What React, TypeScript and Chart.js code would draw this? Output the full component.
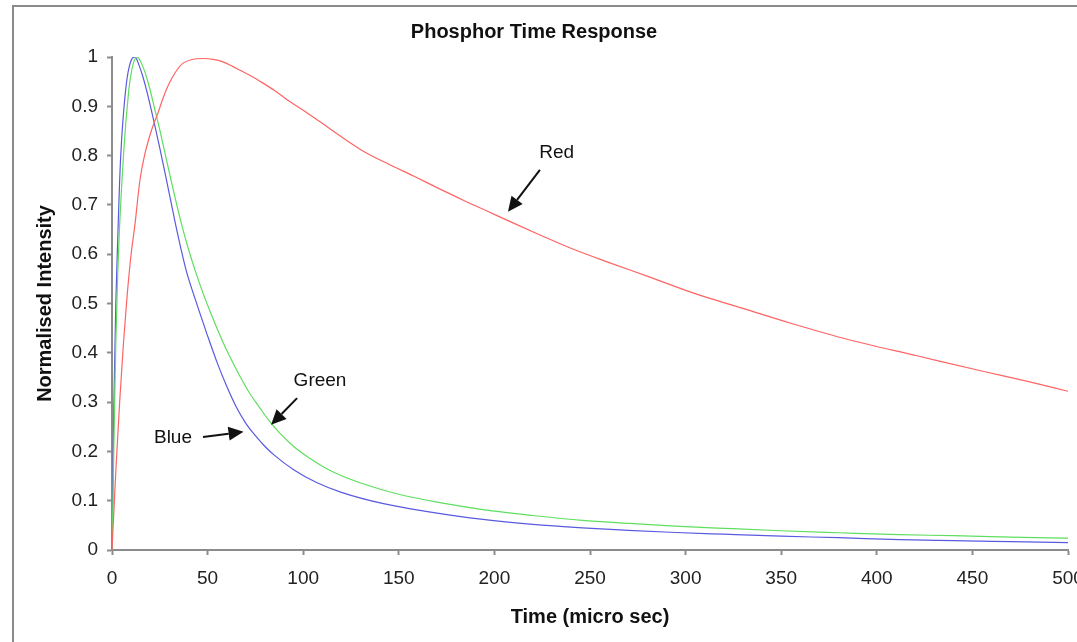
import React, { useEffect, useRef } from "react";
import { Chart, registerables } from "chart.js";

Chart.register(...registerables);

const chartTitle = "Phosphor Time Response";
const xAxisTitle = "Time (micro sec)";
const yAxisTitle = "Normalised Intensity";

const redTime = [0, 1, 2, 4, 6, 8, 10, 12, 14.6, 17, 20.7, 24, 27, 29.5, 33, 37, 42, 48, 53, 58, 63, 67, 73, 79, 85, 91, 100, 109, 120, 131, 145, 158, 170, 184, 197, 210, 225, 240, 260, 281, 305, 330, 355, 386, 421, 456, 480, 500];
const redValues = [0, 0.08, 0.16, 0.3, 0.42, 0.52, 0.6, 0.66, 0.75, 0.8, 0.852, 0.886, 0.92, 0.943, 0.968, 0.987, 0.995, 0.997, 0.995, 0.99, 0.981, 0.973, 0.961, 0.947, 0.932, 0.915, 0.892, 0.868, 0.838, 0.81, 0.782, 0.758, 0.735, 0.709, 0.686, 0.663, 0.637, 0.612, 0.583, 0.554, 0.52, 0.49, 0.46, 0.426, 0.394, 0.362, 0.341, 0.322];

const greenTime = [0, 0.5, 1, 2, 3, 4, 5, 6, 7, 8, 9, 10, 11, 12, 13, 14, 16, 18, 20, 22, 25, 28, 31, 34, 37, 40, 44, 47.7, 52, 56.5, 61, 67, 72, 77, 82, 88, 95, 103, 110, 118, 130, 150, 170, 194, 220, 246, 270, 292, 320, 350, 380, 412, 440, 470, 500];
const greenValues = [0, 0.1, 0.22, 0.42, 0.56, 0.66, 0.735, 0.8, 0.855, 0.9, 0.94, 0.966, 0.985, 0.996, 1.0, 0.997, 0.982, 0.96, 0.932, 0.9, 0.852, 0.8, 0.748, 0.698, 0.652, 0.61, 0.561, 0.52, 0.477, 0.435, 0.397, 0.352, 0.318, 0.29, 0.263, 0.236, 0.21, 0.187, 0.17, 0.154, 0.136, 0.113, 0.097, 0.082, 0.07, 0.06, 0.054, 0.049, 0.044, 0.039, 0.035, 0.031, 0.029, 0.026, 0.024];

const blueTime = [0, 0.5, 1, 1.5, 2, 3, 4, 5, 6, 7, 8, 9, 10, 11, 12, 13, 14, 16, 18, 20, 22, 25, 28, 30, 33, 36, 39, 43, 46, 49.5, 55, 60, 65, 70, 75, 80, 85, 95, 107, 120, 142, 165, 194, 220, 246, 270, 292, 320, 350, 380, 412, 440, 470, 500];
const blueValues = [0, 0.15, 0.3, 0.4, 0.5, 0.63, 0.75, 0.83, 0.885, 0.928, 0.96, 0.98, 0.993, 0.999, 1.0, 0.995, 0.985, 0.962, 0.934, 0.902, 0.868, 0.815, 0.76, 0.722, 0.665, 0.612, 0.564, 0.515, 0.48, 0.44, 0.38, 0.332, 0.29, 0.257, 0.232, 0.21, 0.192, 0.163, 0.137, 0.117, 0.094, 0.078, 0.062, 0.052, 0.045, 0.04, 0.036, 0.032, 0.028, 0.025, 0.021, 0.019, 0.017, 0.015];

// annotations in data coordinates
const noteLabels = ["Red", "Green", "Blue"];
const noteLabelX = [232.6, 108.8, 31.9];
const noteLabelY = [0.805, 0.343, 0.227];
const noteTailX = [223.8, 96.8, 47.6];
const noteTailY = [0.771, 0.308, 0.229];
const noteTipX = [207.1, 83.2, 68.8];
const noteTipY = [0.686, 0.254, 0.24];

const FONT = "'Liberation Sans', Arial, sans-serif";

const toPoints = (xs: number[], ys: number[]) => xs.map((x, i) => ({ x, y: ys[i] }));

const borderPlugin = {
  id: "outerBorder",
  beforeDraw(chart: any) {
    const ctx = chart.ctx;
    ctx.save();
    ctx.fillStyle = "#ffffff";
    ctx.fillRect(0, 0, chart.width, chart.height);
    ctx.strokeStyle = "#8a8a8a";
    ctx.lineWidth = 2;
    ctx.strokeRect(13, 6, chart.width + 20, chart.height + 20);
    ctx.restore();
  },
};

const arrowPlugin = {
  id: "arrows",
  afterDatasetsDraw(chart: any) {
    const ctx = chart.ctx;
    const xs = chart.scales.x;
    const ys = chart.scales.y;
    ctx.save();
    for (let i = 0; i < noteLabels.length; i++) {
      const lx = xs.getPixelForValue(noteLabelX[i]);
      const ly = ys.getPixelForValue(noteLabelY[i]);
      ctx.fillStyle = "#111";
      ctx.font = `19px ${FONT}`;
      ctx.textAlign = "center";
      ctx.textBaseline = "middle";
      ctx.fillText(noteLabels[i], lx, ly);

      const x0 = xs.getPixelForValue(noteTailX[i]);
      const y0 = ys.getPixelForValue(noteTailY[i]);
      const x1 = xs.getPixelForValue(noteTipX[i]);
      const y1 = ys.getPixelForValue(noteTipY[i]);
      const ang = Math.atan2(y1 - y0, x1 - x0);
      const headLen = 15;
      const headW = 7;
      const bx = x1 - headLen * Math.cos(ang);
      const by = y1 - headLen * Math.sin(ang);
      ctx.strokeStyle = "#111";
      ctx.lineWidth = 2;
      ctx.beginPath();
      ctx.moveTo(x0, y0);
      ctx.lineTo(bx, by);
      ctx.stroke();
      ctx.beginPath();
      ctx.moveTo(x1, y1);
      ctx.lineTo(bx + headW * Math.sin(ang), by - headW * Math.cos(ang));
      ctx.lineTo(bx - headW * Math.sin(ang), by + headW * Math.cos(ang));
      ctx.closePath();
      ctx.fill();
    }
    ctx.restore();
  },
};

export default function App() {
  const ref = useRef<HTMLCanvasElement | null>(null);
  useEffect(() => {
    if (!ref.current) return;
    const chart = new Chart(ref.current, {
      type: "line",
      data: {
        datasets: [
          {
            label: "Red",
            data: toPoints(redTime, redValues),
            borderColor: "rgb(255,100,100)",
            borderWidth: 1.2,
            pointRadius: 0,
            cubicInterpolationMode: "monotone",
          },
          {
            label: "Green",
            data: toPoints(greenTime, greenValues),
            borderColor: "rgb(95,222,95)",
            borderWidth: 1.2,
            pointRadius: 0,
            cubicInterpolationMode: "monotone",
          },
          {
            label: "Blue",
            data: toPoints(blueTime, blueValues),
            borderColor: "rgb(90,90,225)",
            borderWidth: 1.2,
            pointRadius: 0,
            cubicInterpolationMode: "monotone",
          },
        ],
      },
      options: {
        animation: false,
        responsive: false,
        layout: { padding: { left: 0, right: 9, top: 0, bottom: 0 } },
        plugins: {
          legend: { display: false },
          tooltip: { enabled: false },
          title: {
            display: true,
            text: chartTitle,
            color: "#111",
            font: { family: FONT, size: 20, weight: "bold" },
            padding: { top: 20, bottom: 13 },
          },
        },
        scales: {
          x: {
            type: "linear",
            min: 0,
            max: 500,
            ticks: {
              stepSize: 50,
              color: "#222",
              font: { family: FONT, size: 19 },
              padding: 12,
              maxRotation: 0,
            },
            grid: {
              drawOnChartArea: false,
              drawTicks: true,
              tickLength: 5,
              tickColor: "#8c8c8c",
              tickWidth: 2,
            },
            border: { display: true, color: "#8c8c8c", width: 2 },
            title: {
              display: true,
              text: xAxisTitle,
              color: "#111",
              font: { family: FONT, size: 20, weight: "bold" },
              padding: { top: 0, bottom: 13 },
            },
            afterFit(s: any) {
              s.height = 92;
              s.paddingLeft = 0;
              s.paddingRight = 0;
            },
          },
          y: {
            min: 0,
            max: 1,
            ticks: {
              stepSize: 0.1,
              color: "#222",
              font: { family: FONT, size: 19 },
              padding: 9,
              callback: (v: any) => String(Math.round(Number(v) * 10) / 10),
            },
            grid: {
              drawOnChartArea: false,
              drawTicks: true,
              tickLength: 5,
              tickColor: "#8c8c8c",
              tickWidth: 2,
            },
            border: { display: true, color: "#8c8c8c", width: 2 },
            title: {
              display: true,
              text: yAxisTitle,
              color: "#111",
              font: { family: FONT, size: 20, weight: "bold" },
              padding: { top: 33, bottom: 0 },
            },
            afterFit(s: any) {
              s.width = 112;
              s.paddingTop = 0;
              s.paddingBottom = 0;
            },
          },
        },
      },
      plugins: [borderPlugin, arrowPlugin],
    });
    return () => chart.destroy();
  }, []);
  return (
    <div style={{ position: "absolute", left: 0, top: 0, width: 1077, height: 642 }}>
      <canvas ref={ref} width={1077} height={642} style={{ display: "block" }} />
    </div>
  );
}
